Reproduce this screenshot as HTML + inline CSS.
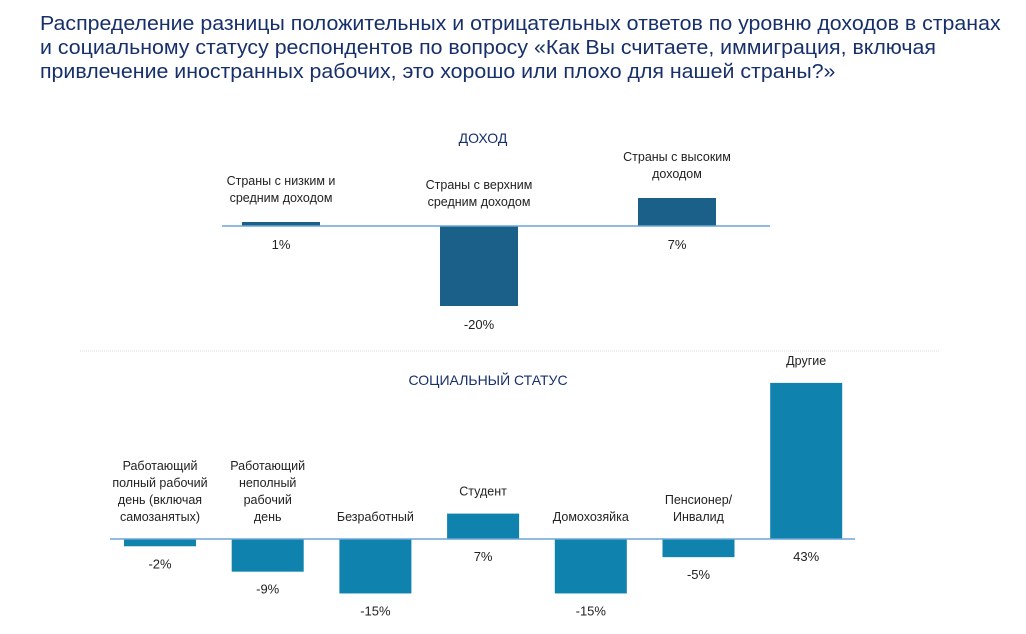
<!DOCTYPE html>
<html><head><meta charset="utf-8"><style>
body{margin:0;background:#fff;width:1026px;height:634px;overflow:hidden;font-family:"Liberation Sans",sans-serif}
#title{position:absolute;left:40px;top:12px;font-size:20px;line-height:24px;color:#17306b;white-space:nowrap;transform:scaleX(1.067);transform-origin:0 0}
</style></head><body>
<div id="title">Распределение разницы положительных и отрицательных ответов по уровню доходов в странах<br>и социальному статусу респондентов по вопросу «Как Вы считаете, иммиграция, включая<br>привлечение иностранных рабочих, это хорошо или плохо для нашей страны?»</div>
<svg id="svg" width="1026" height="634" style="position:absolute;left:0;top:0"></svg>
<script>
const incomeCats=[["Страны с низким и","средним доходом"],["Страны с верхним","средним доходом"],["Страны с высоким","доходом"]];
const incomeVals=[1,-20,7];
const incomeLabels=["1%","-20%","7%"];
const statusCats=[["Работающий","полный рабочий","день (включая","самозанятых)"],["Работающий","неполный","рабочий","день"],["Безработный"],["Студент"],["Домохозяйка"],["Пенсионер/","Инвалид"],["Другие"]];
const statusVals=[-2,-9,-15,7,-15,-5,43];
const statusLabels=["-2%","-9%","-15%","7%","-15%","-5%","43%"];
const NS="http://www.w3.org/2000/svg";
const svg=document.getElementById('svg');
function el(t,a,txt){const e=document.createElementNS(NS,t);for(const k in a)e.setAttribute(k,a[k]);if(txt!==undefined)e.textContent=txt;svg.appendChild(e);return e;}
function panel(cats,vals,labels,o){
  const y=v=>o.base-v*o.scale;
  const t=el('text',{x:o.titleX,y:o.titleY,'font-size':14,fill:'#17306b','text-anchor':'middle'},o.title);
  
  
  cats.forEach((c,i)=>{
    const cx=o.x0+i*o.step, v=vals[i];
    const top=Math.min(y(v),o.base),h=Math.abs(y(v)-o.base);
    const r=el('rect',{x:cx-o.bw/2,y:top,width:o.bw,height:h,fill:o.color});
    
    
    const capBottom=(v>0?y(v):o.base)-o.capGap;
    c.forEach((ln,j)=>{
      const tx=el('text',{x:cx,y:capBottom-(c.length-1-j)*o.lh,'font-size':12.5,fill:'#222','text-anchor':'middle'},ln);
      
      
    });
    const ly=(v<0?y(v):o.base)+o.valGap;
    const vl=el('text',{x:cx,y:ly,'font-size':13,fill:'#222','text-anchor':'middle'},labels[i]);
    
    
  });
  const ax=el('line',{x1:o.ax1,x2:o.ax2,y1:o.base,y2:o.base,stroke:'#6aa6d6','stroke-width':1.5});
  
  
}
panel(incomeCats,incomeVals,incomeLabels,{name:'income',title:'ДОХОД',titleX:483,titleY:143,base:226,scale:4,x0:281,step:198,bw:78,color:'#1a6089',ax1:222,ax2:770,capGap:20,lh:17,valGap:23});
const sep=el('line',{x1:80,x2:940,y1:351,y2:351,stroke:'#ddd','stroke-width':1,'stroke-dasharray':'1 1'});


panel(statusCats,statusVals,statusLabels,{name:'status',title:'СОЦИАЛЬНЫЙ СТАТУС',titleX:488,titleY:385,base:539,scale:3.63,x0:160,step:107.7,bw:72,color:'#0f82ad',ax1:110,ax2:855,capGap:18,lh:17,valGap:22});
</script>
</body></html>
